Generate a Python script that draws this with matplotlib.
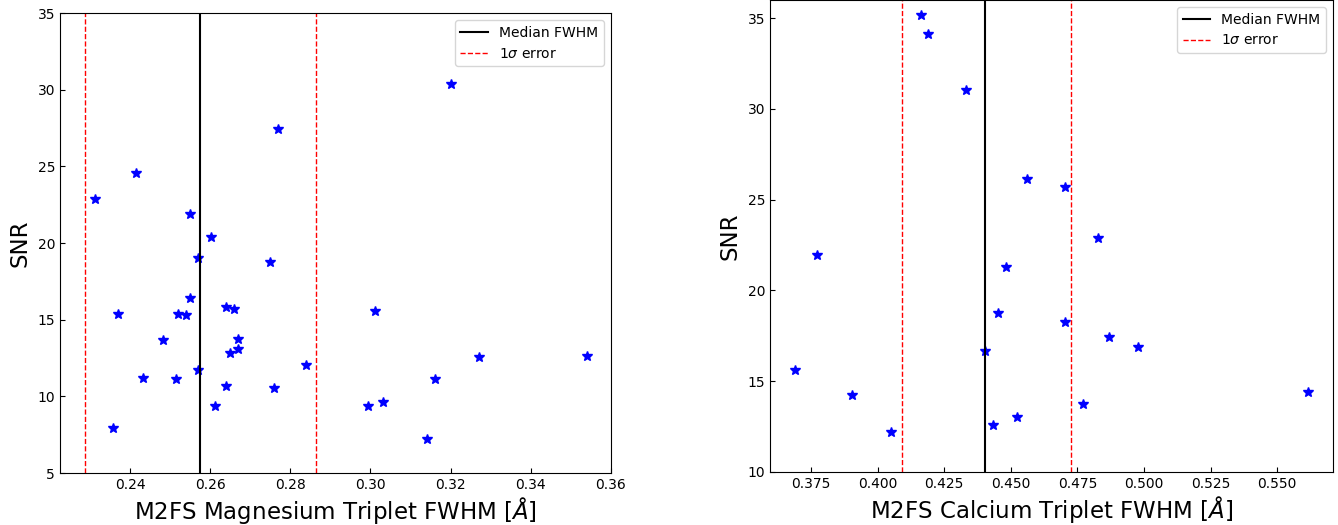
import numpy as np
import matplotlib
matplotlib.use('Agg')
import matplotlib.pyplot as plt

# Magnesium triplet: FWHM [A] vs SNR
mg_fwhm = [0.2313, 0.2414, 0.2550, 0.2601, 0.2569, 0.2769, 0.3200, 0.2749,
           0.2370, 0.2550, 0.2519, 0.2539, 0.2640, 0.2660, 0.3010, 0.2483,
           0.2670, 0.2670, 0.2649, 0.2839, 0.3270, 0.3540, 0.2433, 0.2514,
           0.2569, 0.2640, 0.2759, 0.3160, 0.2611, 0.2994, 0.3030, 0.3140,
           0.2358]
mg_snr = [22.87, 24.59, 21.91, 20.39, 19.05, 27.46, 30.39, 18.74,
          15.39, 16.41, 15.39, 15.28, 15.83, 15.67, 15.59, 13.70,
          13.76, 13.09, 12.80, 12.02, 12.54, 12.63, 11.20, 11.15,
          11.74, 10.70, 10.54, 11.11, 9.35, 9.39, 9.61, 7.22,
          7.93]
mg_median = 0.2574
mg_low, mg_high = 0.2288, 0.2863

# Calcium triplet
ca_fwhm = [0.4162, 0.4191, 0.4332, 0.4562, 0.4704, 0.4829, 0.3771,
           0.3691, 0.3902, 0.4050, 0.4402, 0.4432, 0.4452, 0.4482,
           0.4525, 0.4703, 0.4771, 0.4870, 0.4976, 0.5615]
ca_snr = [35.15, 34.10, 31.05, 26.14, 25.70, 22.89, 21.95,
          15.63, 14.26, 12.19, 16.65, 12.61, 18.75, 21.27,
          13.01, 18.25, 13.73, 17.44, 16.89, 14.38]
ca_median = 0.4405
ca_low, ca_high = 0.4090, 0.4725

fig = plt.figure(figsize=(13.38, 5.25), dpi=100)
ax1 = fig.add_axes([0.0448, 0.099, 0.4118, 0.876])
ax2 = fig.add_axes([0.5755, 0.101, 0.4208, 0.899])

panels = [
    (ax1, mg_fwhm, mg_snr, mg_median, mg_low, mg_high,
     'M2FS Magnesium Triplet FWHM [$\\AA$]', (0.2225, 0.36), (5, 35)),
    (ax2, ca_fwhm, ca_snr, ca_median, ca_low, ca_high,
     'M2FS Calcium Triplet FWHM [$\\AA$]', (0.3596, 0.571), (10, 36)),
]

for ax, x, y, med, lo, hi, xlab, xlim, ylim in panels:
    ax.plot(x, y, '*', color='blue', markersize=7.5, linestyle='none')
    ax.axvline(med, color='black', lw=1.5, label='Median FWHM')
    ax.axvline(lo, color='red', ls='--', lw=1, label='1$\\sigma$ error')
    ax.axvline(hi, color='red', ls='--', lw=1)
    ax.set_xlim(*xlim)
    ax.set_ylim(*ylim)
    ax.set_xlabel(xlab, fontsize=16.5, labelpad=2)
    ax.set_ylabel('SNR', fontsize=16.5, labelpad=4)
    ax.tick_params(direction='in', labelsize=10)
    ax.legend(loc='upper right', fontsize=10)

ax1.set_xticks([0.24, 0.26, 0.28, 0.30, 0.32, 0.34, 0.36])
ax2.set_xticks([0.375, 0.400, 0.425, 0.450, 0.475, 0.500, 0.525, 0.550])

fig.savefig('out.png', dpi=100)
